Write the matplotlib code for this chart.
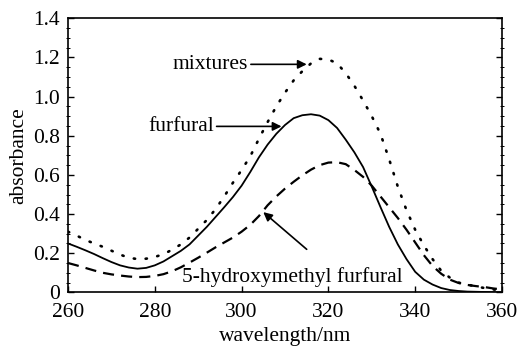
import matplotlib.pyplot as plt
import numpy as np
from matplotlib.ticker import MultipleLocator

plt.rcParams['font.family'] = ['Liberation Serif', 'DejaVu Serif']

# wavelength grid (nm) and absorbance
wavelength = np.arange(260, 361, 2)

furfural = [0.25, 0.233, 0.215, 0.196, 0.175, 0.155, 0.138, 0.127, 0.121, 0.125,
            0.138, 0.158, 0.185, 0.212, 0.245, 0.29, 0.335, 0.385, 0.435, 0.487,
            0.545, 0.615, 0.69, 0.755, 0.81, 0.855, 0.89, 0.905, 0.91, 0.903,
            0.88, 0.84, 0.78, 0.715, 0.64, 0.54, 0.436, 0.335, 0.245, 0.17,
            0.105, 0.065, 0.04, 0.022, 0.012, 0.007, 0.004, 0.003, 0.002, 0.001,
            0.0]

mixtures = [0.31, 0.29, 0.268, 0.25, 0.233, 0.213, 0.193, 0.177, 0.17, 0.172,
            0.181, 0.195, 0.218, 0.245, 0.28, 0.325, 0.37, 0.425, 0.49, 0.56,
            0.625, 0.695, 0.785, 0.87, 0.95, 1.02, 1.083, 1.13, 1.17, 1.193,
            1.19, 1.17, 1.12, 1.055, 0.98, 0.9, 0.81, 0.68, 0.54, 0.42,
            0.32, 0.24, 0.17, 0.11, 0.075, 0.05, 0.04, 0.03, 0.022, 0.015,
            0.01]

hmf = [0.15, 0.138, 0.125, 0.112, 0.1, 0.092, 0.086, 0.081, 0.078, 0.079,
       0.084, 0.093, 0.108, 0.128, 0.152, 0.177, 0.203, 0.23, 0.255, 0.28,
       0.31, 0.345, 0.39, 0.445, 0.49, 0.53, 0.565, 0.598, 0.627, 0.65,
       0.663, 0.665, 0.655, 0.625, 0.59, 0.545, 0.49, 0.435, 0.38, 0.32,
       0.255, 0.19, 0.135, 0.095, 0.065, 0.048, 0.038, 0.032, 0.027, 0.02,
       0.015]

fs = 15.5

fig = plt.figure(figsize=(5.21, 3.46), dpi=100)
ax = fig.add_axes([0.1305, 0.155, 0.833, 0.792])

ax.plot(wavelength, furfural, color='black', lw=1.3, linestyle='-')
ax.plot(wavelength, mixtures, color='black', lw=1.9, linestyle=(0, (0.5, 4.0)),
        dash_capstyle='round')
ax.plot(wavelength, hmf, color='black', lw=1.6, linestyle=(0, (5, 3.2)))

ax.set_xlim(260, 360)
ax.set_ylim(0, 1.4)
ax.xaxis.set_major_locator(MultipleLocator(20))
ax.yaxis.set_minor_locator(MultipleLocator(0.05))
ax.set_yticks(np.arange(0, 1.41, 0.2))
ax.set_yticklabels(['0', '0.2', '0.4', '0.6', '0.8', '1.0', '1.2', '1.4'])

ax.tick_params(axis='both', which='major', direction='in', length=4, width=1,
               labelsize=fs)
ax.tick_params(axis='x', which='major', pad=7.5, top=False)
ax.tick_params(axis='y', which='major', pad=6, right=True)
ax.tick_params(axis='y', which='minor', direction='inout', length=3, width=0.7,
               right=True)
for s in ax.spines.values():
    s.set_linewidth(1.2)

ax.set_xlabel('wavelength/nm', fontsize=fs, labelpad=4)
ax.set_ylabel('absorbance', fontsize=fs, labelpad=3)

arrow = dict(arrowstyle='-|>', color='black', lw=1.2, mutation_scale=13,
             shrinkA=0, shrinkB=0)
ax.annotate('mixtures', xy=(315, 1.165), xytext=(301.5, 1.165),
            ha='right', va='center', fontsize=fs, arrowprops=arrow)
ax.annotate('furfural', xy=(309.2, 0.848), xytext=(293.6, 0.848),
            ha='right', va='center', fontsize=fs, arrowprops=arrow)
ax.annotate('', xy=(305, 0.41), xytext=(315, 0.22), arrowprops=arrow)
ax.text(311.7, 0.077, '5-hydroxymethyl furfural', ha='center', va='center',
        fontsize=fs)

fig.savefig('out.png', dpi=100)
